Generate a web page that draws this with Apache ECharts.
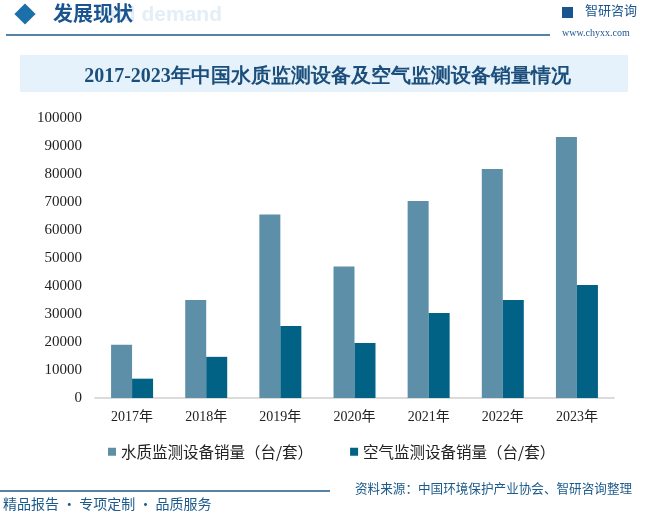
<!DOCTYPE html>
<html><head><meta charset="utf-8">
<script src="https://cdn.jsdelivr.net/npm/echarts@6/dist/echarts.min.js"></script>
<style>html,body{margin:0;padding:0;background:#fff}#c{width:655px;height:517px}</style>
</head><body><div id="c"></div>
<script>
const categories = ['2017年','2018年','2019年','2020年','2021年','2022年','2023年'];
const waterSales = [19000, 35000, 65500, 47000, 70400, 81800, 93200];
const airSales = [6900, 14700, 25700, 19600, 30400, 35000, 40400];
const seriesNames = ['水质监测设备销量（台/套）','空气监测设备销量（台/套）'];
const yTicks = [0, 100000, 10000];

const chart = echarts.init(document.getElementById('c'));
chart.setOption({
  animation: false,
  backgroundColor: '#fff',
  title: {
    text: '2017-2023年中国水质监测设备及空气监测设备销量情况',
    left: 'center', top: 62,
    textStyle: {fontSize: 20, fontWeight: 'bold', color: '#1b4e7a', fontFamily: 'Liberation Serif, serif'}
  },
  graphic: [
    {type: 'rect', shape: {x: 20, y: 55, width: 608, height: 37}, style: {fill: '#e5f2fb'}, z: -1},
    {type: 'text', x: 222, y: 5, style: {text: 'and demand', align: 'right', fontSize: 21, fontWeight: 'bold', fill: '#e3eef7', fontFamily: 'Liberation Sans'}, z: 0},
    {type: 'rect', shape: {x: -7.5, y: -7.5, width: 15, height: 15}, x: 25, y: 14, rotation: Math.PI/4, style: {fill: '#1b70aa'}},
    {type: 'text', x: 53, y: 3, style: {text: '发展现状', fontSize: 20, fontWeight: 'bold', fill: '#1b5590', fontFamily: 'Noto Sans CJK SC'}, z: 2},
    {type: 'line', shape: {x1: 6, y1: 35, x2: 550, y2: 35}, style: {stroke: '#1b5a8a', lineWidth: 1.5}},
    {type: 'text', x: 585, y: 4, style: {text: '智研咨询', fontSize: 13, fill: '#1b5590', fontFamily: 'Noto Sans CJK SC'}},
    {type: 'rect', shape: {x: 562, y: 7, width: 11, height: 11}, style: {fill: '#1b5590'}},
    {type: 'text', x: 562, y: 28, style: {text: 'www.chyxx.com', fontSize: 10, fill: '#1b5590', fontFamily: 'Liberation Serif'}},
    {type: 'line', shape: {x1: 0, y1: 491, x2: 330, y2: 491}, style: {stroke: '#1b5a8a', lineWidth: 1.5}},
    {type: 'text', x: 355, y: 482, style: {text: '资料来源：中国环境保护产业协会、智研咨询整理', fontSize: 12.6, fill: '#1b5a8a', fontFamily: 'Noto Sans CJK SC'}},
    {type: 'text', x: 3, y: 497, style: {text: '精品报告 · 专项定制 · 品质服务', fontSize: 14, fill: '#1b5a8a', fontFamily: 'Noto Sans CJK SC'}}
  ],
  grid: {left: 95, right: 41, top: 118, bottom: 119},
  legend: {
    data: seriesNames, left: 103, top: 439, itemWidth: 8, itemHeight: 8, itemGap: 37,
    icon: 'rect',
    textStyle: {fontSize: 15.5, color: '#222', fontFamily: 'Noto Sans CJK SC'}
  },
  xAxis: {
    type: 'category', data: categories,
    axisLine: {lineStyle: {color: '#d0d0d0', width: 1.5}},
    axisTick: {show: false},
    axisLabel: {fontSize: 14, color: '#222', margin: 12, fontFamily: 'Liberation Serif, Noto Sans CJK SC'}
  },
  yAxis: {
    type: 'value', min: yTicks[0], max: yTicks[1], interval: yTicks[2],
    splitLine: {show: false}, axisLine: {show: false}, axisTick: {show: false},
    axisLabel: {fontSize: 15, color: '#222', margin: 13, fontFamily: 'Liberation Serif', formatter: v => String(v)}
  },
  series: [
    {name: seriesNames[0], type: 'bar', data: waterSales, barWidth: 21, barGap: '0%', itemStyle: {color: '#5d90a8'}},
    {name: seriesNames[1], type: 'bar', data: airSales, barWidth: 21, itemStyle: {color: '#026285'}}
  ]
});
</script></body></html>
